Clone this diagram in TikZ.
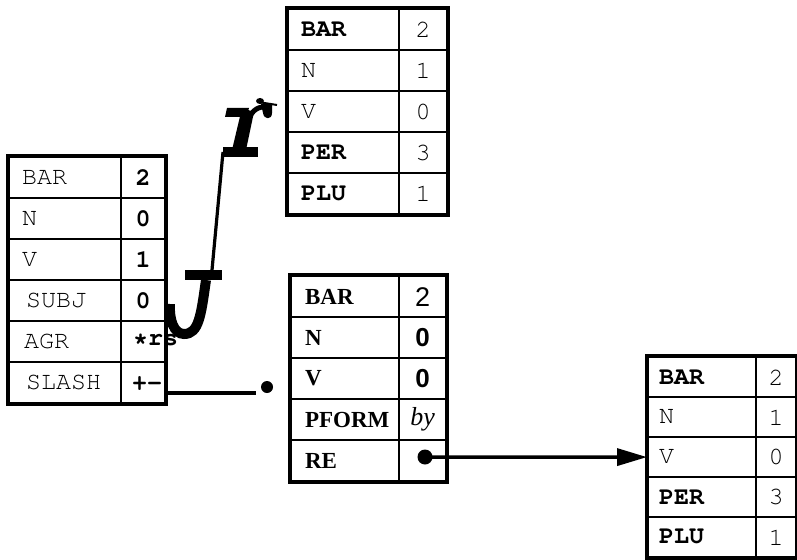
\documentclass[tikz,border=0pt]{standalone}
\usepackage[T1,TU]{fontenc}
\usepackage{fontspec}
\setmainfont{Liberation Serif}
\newfontfamily\arialf{Liberation Sans}
\newcommand{\courf}{\fontencoding{T1}\fontfamily{pcr}\selectfont}
\usetikzlibrary{arrows.meta}
\begin{document}
\begin{tikzpicture}[x=1pt,y=-1pt,
  cell/.style={draw, line width=2.2pt, inner ysep=0pt, minimum height=41pt, anchor=north west},
  cr/.style={font=\fontsize{25}{25}\courf},
  cb/.style={font=\fontsize{25}{25}\courf\bfseries},
  tb/.style={font=\fontsize{23}{23}\selectfont\bfseries},
  lab/.style 2 args={cell, text width=#1, inner xsep=#2, align=left},
  val/.style={cell, minimum width=#1, inner xsep=0pt, align=center},
  frame/.style={draw, line width=3.2pt},
  conn/.style={line width=3.5pt},
  blob/.style={circle, fill, inner sep=0pt, minimum size=#1}
]
\useasboundingbox (0,0) rectangle (797,559);

% ---- table 1 (left)
\node[lab={86pt}{13pt}, cr] (a1) at (8,156) {BAR};
\node[val=44pt, cb] (b1) at (120,156) {2};
\node[lab={86pt}{13pt}, cr] (a2) at (8,197) {N};
\node[val=44pt, cb] (b2) at (120,197) {0};
\node[lab={86pt}{13pt}, cr] (a3) at (8,238) {V};
\node[val=44pt, cb] (b3) at (120,238) {1};
\node[lab={86pt}{13pt}, cr] (a4) at (8,279) {\hspace*{4pt}SUBJ};
\node[val=44pt, cb] (b4) at (120,279) {0};
\node[lab={86pt}{13pt}, cr] (a5) at (8,320) {\hspace*{2pt}AGR};
\node[val=44pt, cb] (b5) at (120,320) {};
\node[lab={86pt}{13pt}, cr] (a6) at (8,361) {\hspace*{4pt}SLASH};
\node[val=44pt, cb] (b6) at (120,361) {};
\node[cb, anchor=west, inner sep=0pt] (agrv) at (133,340) {*rs};
\node[cb, anchor=west, inner sep=0pt] (slv) at (132,384) {+-};
\draw[frame] (a1.north west) rectangle (b6.south east);

% ---- table 2 (top)
\node[lab={85pt}{13pt}, cb] (c1) at (287,8) {BAR};
\node[val=48pt, cr] (d1) at (398,8) {2};
\node[lab={85pt}{13pt}, cr] (c2) at (287,49) {N};
\node[val=48pt, cr] (d2) at (398,49) {1};
\node[lab={85pt}{13pt}, cr] (c3) at (287,90) {V};
\node[val=48pt, cr] (d3) at (398,90) {0};
\node[lab={85pt}{13pt}, cb] (c4) at (287,131) {PER};
\node[val=48pt, cr] (d4) at (398,131) {3};
\node[lab={85pt}{13pt}, cb] (c5) at (287,172) {PLU};
\node[val=48pt, cr] (d5) at (398,172) {1};
\draw[frame] (c1.north west) rectangle (d5.south east);

% ---- table 3 (middle)
\node[lab={80pt}{14pt}, tb] (e1) at (290,275) {BAR};
\node[val=47pt, font=\fontsize{27}{27}\arialf] (f1) at (398,275) {2};
\node[lab={80pt}{14pt}, tb] (e2) at (290,316) {N};
\node[val=47pt, font=\fontsize{26}{26}\arialf\bfseries] (f2) at (398,316) {0};
\node[lab={80pt}{14pt}, tb] (e3) at (290,357) {V};
\node[val=47pt, font=\fontsize{26}{26}\arialf\bfseries] (f3) at (398,357) {0};
\node[lab={80pt}{14pt}, tb] (e4) at (290,398) {PFORM};
\node[val=47pt, font=\fontsize{26}{26}\selectfont\itshape] (f4) at (398,398) {by};
\node[lab={80pt}{14pt}, tb] (e5) at (290,439) {RE};
\node[val=47pt] (f5) at (398,439) {};
\draw[frame] (e1.north west) rectangle (f5.south east);

% ---- table 4 (bottom right)
\node[lab={86pt}{11pt}, cb, minimum height=40pt] (g1) at (647,356) {BAR};
\node[val=40pt, cr, minimum height=40pt] (h1) at (755,356) {2};
\node[lab={86pt}{11pt}, cr, minimum height=40pt] (g2) at (647,396) {N};
\node[val=40pt, cr, minimum height=40pt] (h2) at (755,396) {1};
\node[lab={86pt}{11pt}, cr, minimum height=40pt] (g3) at (647,436) {V};
\node[val=40pt, cr, minimum height=40pt] (h3) at (755,436) {0};
\node[lab={86pt}{11pt}, cb, minimum height=40pt] (g4) at (647,476) {PER};
\node[val=40pt, cr, minimum height=40pt] (h4) at (755,476) {3};
\node[lab={86pt}{11pt}, cb, minimum height=40pt] (g5) at (647,516) {PLU};
\node[val=40pt, cr, minimum height=40pt] (h5) at (755,516) {1};
\draw[frame] (g1.north west) rectangle (h5.south east);

% ---- connector SLASH -> dot
\node[blob=12pt] (dot1) at (267,387) {};
\coordinate (s1) at (166,393);
\coordinate (s2) at (256,393);
\draw[conn] (s1) -- (s2);

% ---- connector RE -> table 4 (V row)
\node[blob=15pt] (dot2) at (425,457) {};
\draw[conn, -{Triangle[length=30pt,width=17pt]}] (dot2.center) -- (g3.west);

% ---- curved connector AGR -> top table (drawn as in the reference)
\coordinate (j0) at (212,270);
\coordinate (r0) at (223,152);
\draw[line width=3.2pt] (j0) -- (r0);
% J-shaped lower part
\fill (185,270) rectangle (222,280);
\draw[line width=10pt] (206,280) .. controls (201,315) and (199,334) .. (184,334)
      .. controls (174,334) and (169,320) .. (170,304);
% r-shaped upper part
\fill (223,147) rectangle (258,157);
\fill (232,150) -- (246,150) -- (254,112) -- (242,108) -- cycle;
\fill (227,108) -- (249,108) -- (246,117) -- (225,117) -- cycle;
\draw[line width=5pt] (249,118) .. controls (253,110) and (258,106) .. (268,107);
\fill (261,104) -- (272,104) -- (272,113) .. controls (272,120) and (264,120) .. (263,113) -- cycle;
\fill (260,101) ellipse (4 and 3);
\draw[line width=2pt] (258,102) -- (277,105);
\end{tikzpicture}
\end{document}
